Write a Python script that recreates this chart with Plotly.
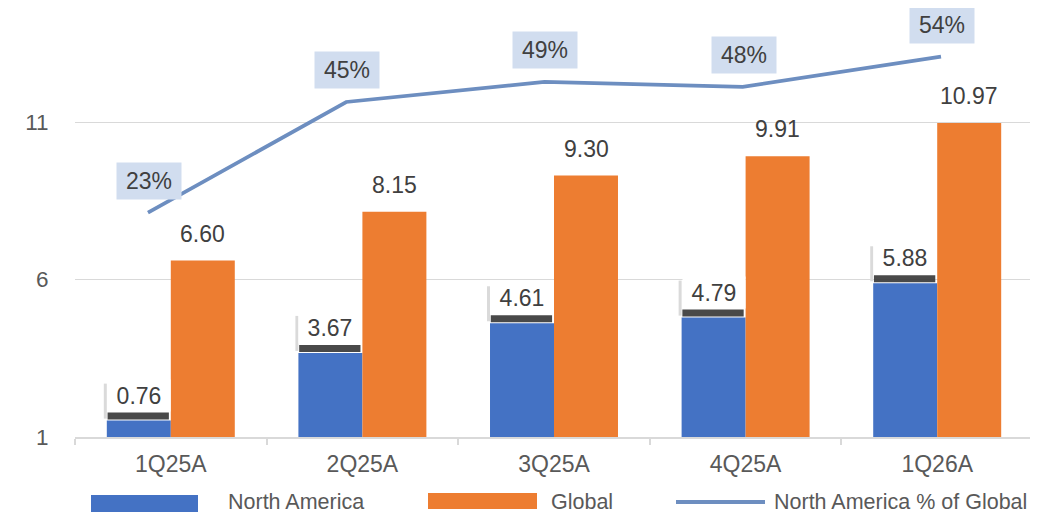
import plotly.graph_objects as go

# ---- data ----
quarters = ["1Q25A", "2Q25A", "3Q25A", "4Q25A", "1Q26A"]
north_america = [1.52, 3.67, 4.61, 4.79, 5.88]          # bar heights as drawn
north_america_labels = ["0.76", "3.67", "4.61", "4.79", "5.88"]  # labels as printed
global_vals = [6.60, 8.15, 9.30, 9.91, 10.97]
na_pct = [23, 45, 49, 48, 54]
y_ticks = [1, 6, 11]

BLUE = "#4472C4"
ORANGE = "#ED7D31"
LINE = "#6D8EC0"
PCT_BOX = "#D1DDEF"
TICK = "#595959"
LABEL = "#404040"
GRID = "#D9D9D9"
FONT = "Liberation Sans, Arial, sans-serif"

OFF = 8  # page body margin
W, H = 1030, 506
ML, MR, MT, MB = 67, 5, 0, 77
PW = W - ML - MR
PH = H - MT - MB


def px_x(p):  # page px -> paper
    return (p - OFF - ML) / PW


def px_y(p):
    return (H - MB - (p - OFF)) / PH


fig = go.Figure()
fig.add_trace(go.Bar(x=quarters, y=north_america, name="North America",
                     marker=dict(color=BLUE, line=dict(width=0)), showlegend=False))
fig.add_trace(go.Bar(x=quarters, y=global_vals, name="Global",
                     marker=dict(color=ORANGE, line=dict(width=0)), showlegend=False))
fig.add_trace(go.Scatter(x=quarters, y=na_pct, name="North America % of Global",
                         mode="lines", line=dict(color=LINE, width=3.75),
                         xaxis="x2", yaxis="y2", showlegend=False))

annotations = []
shapes = []
for i, q in enumerate(quarters):
    # Global labels
    annotations.append(dict(x=q, y=global_vals[i], xref="x", yref="y",
                            text=f"{global_vals[i]:.2f}", showarrow=False,
                            xshift=32, yshift=27, yanchor="middle",
                            font=dict(size=23, color=LABEL, family=FONT)))
    # North America labels (white box with dark shadow band)
    annotations.append(dict(x=q, y=north_america[i], xref="x", yref="y",
                            text=north_america_labels[i], showarrow=False,
                            xshift=-32, yshift=9, yanchor="bottom",
                            width=62, height=31, borderpad=0, bgcolor="white",
                            font=dict(size=23, color=LABEL, family=FONT)))
    shapes.append(dict(type="rect", xref="x", yref="y", ysizemode="pixel",
                       yanchor=north_america[i], y0=1, y1=8,
                       x0=i - 0.33, x1=i - 0.01, fillcolor="#3A3A3A",
                       line=dict(width=0), layer="above", opacity=0.92))
    shapes.append(dict(type="rect", xref="x", yref="y", ysizemode="pixel",
                       xsizemode="pixel", xanchor=i - 0.334,
                       yanchor=north_america[i], y0=2, y1=37, x0=-3, x1=0,
                       fillcolor="#DADADA", line=dict(width=0), layer="above"))
    # percent labels
    annotations.append(dict(x=q, y=na_pct[i], xref="x2", yref="y2",
                            text=f"{na_pct[i]}%", showarrow=False,
                            yshift=32, xshift=1, yanchor="middle",
                            width=64, height=36, borderpad=0, bgcolor=PCT_BOX,
                            font=dict(size=23, color=LABEL, family=FONT)))

# custom legend (page pixel positions)
leg_items = [
    ("North America", BLUE, "rect", 91, 198, 495, 512, 226),
    ("Global", ORANGE, "rect", 428, 537, 493, 509, 549),
    ("North America % of Global", LINE, "line", 676, 765, 502, 502, 772),
]
for name, col, kind, x0, x1, y0, y1, tx in leg_items:
    if kind == "rect":
        shapes.append(dict(type="rect", xref="paper", yref="paper",
                           x0=px_x(x0), x1=px_x(x1), y0=px_y(y1), y1=px_y(y0),
                           fillcolor=col, line=dict(width=0)))
    else:
        shapes.append(dict(type="line", xref="paper", yref="paper",
                           x0=px_x(x0), x1=px_x(x1), y0=px_y(y0), y1=px_y(y0),
                           line=dict(color=col, width=4)))
    annotations.append(dict(x=px_x(tx), y=px_y(502), xref="paper", yref="paper",
                            text=name, showarrow=False, xanchor="left",
                            yanchor="middle",
                            font=dict(size=21.5, color=TICK, family=FONT)))

fig.update_layout(
    width=W, height=H,
    margin=dict(l=ML, r=MR, t=MT, b=MB, pad=0),
    paper_bgcolor="white", plot_bgcolor="white",
    barmode="group", bargap=0.332, bargroupgap=0,
    showlegend=False,
    font=dict(family=FONT, color=TICK),
    xaxis=dict(type="category", tickson="boundaries", ticks="outside",
               ticklen=6, tickwidth=1.5, tickcolor=GRID, ticklabelstandoff=6,
               showline=True, linecolor=GRID, linewidth=1.5,
               showgrid=False, tickfont=dict(size=23, color=TICK, family=FONT),
               range=[-0.5, 4.5]),
    yaxis=dict(range=[1, 1 + PH / 31.5], tickvals=y_ticks,
               ticktext=[str(v) for v in y_ticks],
               showgrid=True, gridcolor=GRID, gridwidth=1.3,
               zeroline=False, showline=False, ticks="outside", ticklen=21,
               tickcolor="rgba(0,0,0,0)",
               tickfont=dict(size=22.5, color=TICK, family=FONT)),
    xaxis2=dict(type="category", overlaying="x", visible=False,
                range=[-0.368, 4.464]),
    yaxis2=dict(overlaying="y", visible=False,
                range=[-21.57, 23 + (212.7 - OFF) / 5.032]),
    annotations=annotations,
    shapes=shapes,
)

fig.write_html("out.html")
